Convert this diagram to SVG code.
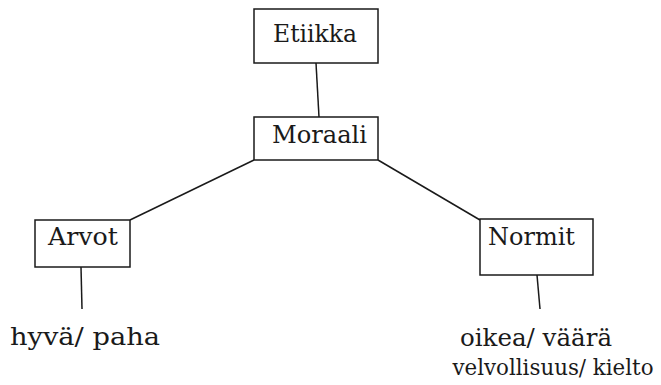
<svg xmlns="http://www.w3.org/2000/svg" width="661" height="385" viewBox="0 0 661 385">
<style>
.box{fill:#fff;stroke:#1a1a1a;stroke-width:1.5}
line{stroke:#1a1a1a;stroke-width:1.5}
text{font-family:'DejaVu Serif',serif;font-size:24px;fill:#1a1a1a;text-anchor:middle}
.small{font-size:21.5px}
</style>
<rect width="661" height="385" fill="#fff"/>
<g id="connectors">
<line x1="316" y1="63" x2="319" y2="117"/>
<line x1="254" y1="160" x2="130" y2="220"/>
<line x1="378" y1="160" x2="480" y2="220"/>
<line x1="81" y1="267" x2="82" y2="309"/>
<line x1="537" y1="275" x2="540" y2="309"/>
</g>
<g id="etiikka"><rect class="box" x="254" y="9" width="124" height="54"/><text x="315" y="42" textLength="84" lengthAdjust="spacingAndGlyphs">Etiikka</text></g>
<g id="moraali"><rect class="box" x="254" y="117" width="124" height="43"/><text x="319.5" y="143" textLength="95" lengthAdjust="spacingAndGlyphs">Moraali</text></g>
<g id="arvot"><rect class="box" x="35" y="220" width="95" height="47"/><text x="83" y="245" textLength="70" lengthAdjust="spacingAndGlyphs">Arvot</text></g>
<g id="normit"><rect class="box" x="480" y="219" width="113" height="56"/><text x="531.5" y="245" textLength="87" lengthAdjust="spacingAndGlyphs">Normit</text></g>
<g id="hyva"><text x="85" y="345" textLength="150" lengthAdjust="spacingAndGlyphs">hyvä/ paha</text></g>
<g id="oikea"><text x="536" y="346" textLength="152" lengthAdjust="spacingAndGlyphs">oikea/ väärä</text><text class="small" x="553" y="375" textLength="201" lengthAdjust="spacingAndGlyphs">velvollisuus/ kielto</text></g>
</svg>
